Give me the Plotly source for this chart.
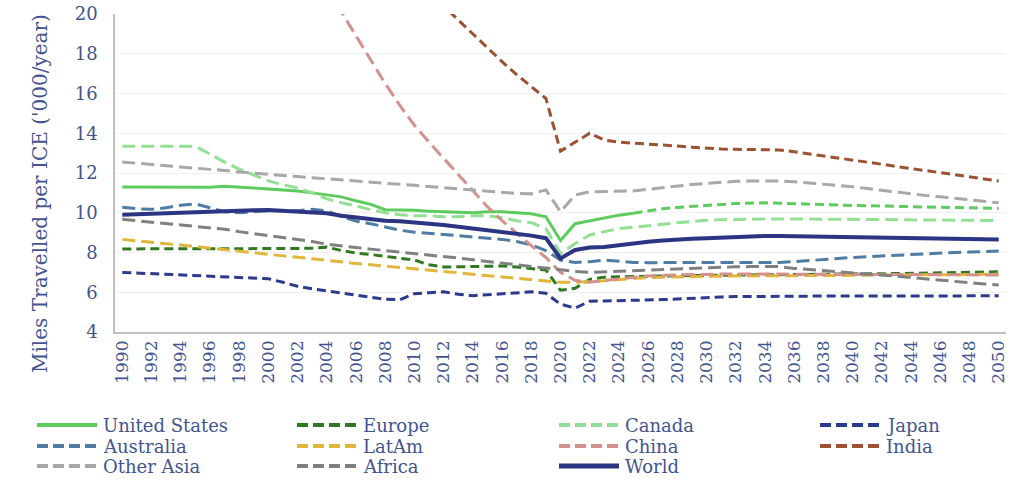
import plotly.graph_objects as go

years = list(range(1990, 2051))

united_states = [11.3, 11.3, 11.3, 11.3, 11.3, 11.3, 11.28, 11.33, 11.3, 11.25,
                 11.2, 11.15, 11.1, 11.0, 10.9, 10.8, 10.6, 10.42, 10.15, 10.15,
                 10.12, 10.08, 10.05, 10.05, 10.0, 10.05, 10.05, 10.0, 9.95, 9.8,
                 8.6, 9.45, 9.6, 9.75, 9.88, 9.98, 10.1, 10.2, 10.27, 10.33,
                 10.38, 10.42, 10.46, 10.48, 10.5, 10.48, 10.45, 10.43, 10.41, 10.39,
                 10.37, 10.35, 10.33, 10.31, 10.3, 10.28, 10.27, 10.26, 10.25, 10.23,
                 10.22]
us_last_actual_year = 2025

europe = [8.18, 8.18, 8.18, 8.18, 8.18, 8.18, 8.17, 8.17, 8.17, 8.17,
          8.17, 8.18, 8.2, 8.22, 8.27, 8.1, 7.97, 7.9, 7.8, 7.72,
          7.62, 7.38, 7.27, 7.28, 7.3, 7.33, 7.32, 7.27, 7.2, 7.12,
          6.1, 6.2, 6.65, 6.76, 6.78, 6.8, 6.81, 6.82, 6.83, 6.84,
          6.85, 6.85, 6.86, 6.86, 6.87, 6.87, 6.88, 6.89, 6.9, 6.91,
          6.92, 6.93, 6.93, 6.94, 6.95, 6.96, 6.97, 6.98, 7.0, 7.01,
          7.03]

canada = [13.35, 13.35, 13.35, 13.35, 13.35, 13.35, 12.95, 12.55, 12.2, 11.9,
          11.6, 11.4, 11.25, 11.0, 10.7, 10.5, 10.35, 10.15, 10.0, 9.9,
          9.85, 9.85, 9.8, 9.8, 9.85, 9.85, 9.75, 9.6, 9.5, 9.2,
          7.95, 8.45, 8.88, 9.05, 9.2, 9.27, 9.33, 9.42, 9.5, 9.57,
          9.62, 9.65, 9.67, 9.68, 9.69, 9.69, 9.69, 9.68, 9.68, 9.67,
          9.67, 9.66, 9.66, 9.65, 9.65, 9.64, 9.63, 9.62, 9.62, 9.61,
          9.6]

japan = [7.0, 6.97, 6.93, 6.9, 6.86, 6.82, 6.8, 6.78, 6.76, 6.73,
         6.68, 6.5, 6.3, 6.17, 6.06, 5.96, 5.86, 5.75, 5.65, 5.62,
         5.93, 5.98, 6.02, 5.9, 5.83, 5.87, 5.92, 6.0, 6.02, 5.95,
         5.4, 5.2, 5.55, 5.56, 5.57, 5.59, 5.61, 5.63, 5.66, 5.7,
         5.73, 5.76, 5.78, 5.79, 5.8, 5.8, 5.81, 5.81, 5.81, 5.81,
         5.81, 5.81, 5.81, 5.81, 5.82, 5.82, 5.82, 5.82, 5.82, 5.82,
         5.82]

australia = [10.28, 10.2, 10.17, 10.25, 10.38, 10.45, 10.25, 10.05, 10.0, 10.05,
             10.1, 10.1, 10.1, 10.17, 10.1, 9.8, 9.58, 9.45, 9.3, 9.12,
             9.02, 8.97, 8.9, 8.85, 8.78, 8.72, 8.66, 8.55, 8.38, 8.1,
             7.62, 7.5, 7.54, 7.62, 7.55, 7.5, 7.49, 7.49, 7.49, 7.49,
             7.49, 7.49, 7.49, 7.49, 7.5, 7.5, 7.54, 7.6, 7.66, 7.71,
             7.75, 7.79, 7.83, 7.87, 7.91, 7.94, 7.97, 8.0, 8.02, 8.05,
             8.08]

latam = [8.66, 8.58, 8.5, 8.44, 8.38, 8.3, 8.2, 8.12, 8.05, 7.97,
         7.9, 7.83, 7.76, 7.68, 7.58, 7.52, 7.45, 7.38, 7.3, 7.24,
         7.18, 7.12, 7.05, 6.98, 6.9, 6.83, 6.76, 6.7, 6.64, 6.58,
         6.5, 6.5, 6.53, 6.58, 6.64, 6.7, 6.74, 6.76, 6.78, 6.8,
         6.81, 6.81, 6.82, 6.82, 6.82, 6.83, 6.83, 6.84, 6.84, 6.85,
         6.85, 6.86, 6.86, 6.87, 6.87, 6.88, 6.88, 6.89, 6.89, 6.9,
         6.9]

china = [None, None, None, None, None, None, None, None, None, None,
         None, None, None, None, 21.3, 20.1, 18.9, 17.7, 16.5, 15.4,
         14.4, 13.55, 12.75, 11.95, 11.1, 10.3, 9.6, 8.95, 8.35, 7.75,
         7.0, 6.6, 6.5, 6.6, 6.68, 6.75, 6.82, 6.86, 6.88, 6.9,
         6.92, 6.92, 6.92, 6.92, 6.92, 6.92, 6.91, 6.91, 6.91, 6.9,
         6.9, 6.9, 6.9, 6.89, 6.89, 6.89, 6.88, 6.88, 6.88, 6.87,
         6.87]

india = [None, None, None, None, None, None, None, None, None, None,
         None, None, None, None, None, None, None, None, None, None,
         None, 21.1, 20.4, 19.68, 19.0, 18.3, 17.6, 16.95, 16.35, 15.75,
         13.1, 13.55, 14.0, 13.66, 13.55, 13.5, 13.46, 13.41, 13.36, 13.3,
         13.24, 13.21, 13.19, 13.18, 13.18, 13.16, 13.07, 12.97, 12.86, 12.76,
         12.65, 12.55, 12.44, 12.33, 12.22, 12.12, 12.02, 11.92, 11.81, 11.7,
         11.6]

other_asia = [12.55, 12.5, 12.43, 12.37, 12.3, 12.25, 12.19, 12.13, 12.05, 11.98,
              11.92, 11.87, 11.82, 11.76, 11.7, 11.65, 11.6, 11.53, 11.48, 11.43,
              11.38, 11.32, 11.26, 11.2, 11.12, 11.06, 11.0, 10.97, 10.95, 11.15,
              10.05, 10.9, 11.05, 11.06, 11.06, 11.1, 11.18, 11.27, 11.35, 11.42,
              11.48, 11.54, 11.58, 11.6, 11.6, 11.6, 11.56, 11.5, 11.42, 11.37,
              11.31, 11.22, 11.13, 11.03, 10.94, 10.87, 10.8, 10.72, 10.64, 10.57,
              10.5]

africa = [9.67, 9.6, 9.52, 9.45, 9.37, 9.3, 9.24, 9.17, 9.05, 8.95,
          8.88, 8.78, 8.67, 8.55, 8.42, 8.35, 8.25, 8.17, 8.1, 8.02,
          7.95, 7.87, 7.8, 7.72, 7.63, 7.55, 7.47, 7.38, 7.3, 7.2,
          7.12, 7.05, 7.0, 7.02, 7.04, 7.08, 7.12, 7.15, 7.18, 7.21,
          7.23, 7.26, 7.28, 7.29, 7.29, 7.29, 7.2, 7.14, 7.08, 7.01,
          6.95, 6.91, 6.87, 6.8, 6.73, 6.68, 6.62, 6.55, 6.48, 6.42,
          6.36]

world = [9.9, 9.93, 9.95, 9.98, 10.02, 10.05, 10.08, 10.1, 10.12, 10.13,
         10.14, 10.1, 10.05, 10.0, 9.97, 9.85, 9.75, 9.7, 9.6, 9.57,
         9.52, 9.45, 9.38, 9.3, 9.22, 9.13, 9.05, 8.95, 8.85, 8.72,
         7.7, 8.13, 8.25, 8.28, 8.38, 8.46, 8.54, 8.6, 8.66, 8.69,
         8.72, 8.76, 8.79, 8.81, 8.83, 8.83, 8.82, 8.81, 8.8, 8.79,
         8.79, 8.78, 8.77, 8.76, 8.75, 8.73, 8.71, 8.7, 8.68, 8.67,
         8.66]

y_ticks = [4, 6, 8, 10, 12, 14, 16, 18, 20]
y_title = "Miles Travelled per ICE ('000/year)"

# name, values, colour, width, dash
series = [
    ("Europe", europe, "#2f7a20", 3, "9px,5px"),
    ("Canada", canada, "#93df93", 3, "13px,6px"),
    ("Japan", japan, "#2b3a8c", 3, "9px,5px"),
    ("Australia", australia, "#4f7ca4", 3, "13px,6px"),
    ("LatAm", latam, "#e2b53b", 3, "13px,6px"),
    ("China", china, "#d3918e", 3, "13px,6px"),
    ("India", india, "#9a5231", 3, "9px,5px"),
    ("Other Asia", other_asia, "#a8a8a8", 3, "13px,6px"),
    ("Africa", africa, "#808080", 3, "13px,6px"),
]

US_COLOR = "#5dcb5d"
WORLD_COLOR = "#2b3583"
TEXT_COLOR = "#42548f"
FONT = "DejaVu Serif"

fig = go.Figure()

split = years.index(us_last_actual_year)
fig.add_trace(go.Scatter(x=years[:split + 1], y=united_states[:split + 1], mode="lines",
                         line=dict(color=US_COLOR, width=3), name="United States",
                         showlegend=False))
fig.add_trace(go.Scatter(x=years[split:], y=united_states[split:], mode="lines",
                         line=dict(color=US_COLOR, width=3, dash="9px,5px"),
                         name="United States (projection)", showlegend=False))
for name, vals, col, w, dash in series:
    fig.add_trace(go.Scatter(x=years, y=vals, mode="lines", name=name,
                             line=dict(color=col, width=w, dash=dash),
                             showlegend=False))
fig.add_trace(go.Scatter(x=years, y=world, mode="lines", name="World",
                         line=dict(color=WORLD_COLOR, width=4), showlegend=False))

# layout geometry (pixels)
W, H = 1024, 485
PL, PR, PT, PB = 115, 1006, 14, 332


def fx(px):
    return (px - PL) / (PR - PL)


def fy(py):
    return (PB - py) / (PB - PT)


# manual legend (4 columns x 3 rows)
legend_entries = [
    ("United States", US_COLOR, 4, "solid"),
    ("Europe", "#2f7a20", 4, "11px,5px"),
    ("Canada", "#93df93", 4, "11px,5px"),
    ("Japan", "#2b3a8c", 4, "11px,5px"),
    ("Australia", "#4f7ca4", 4, "11px,5px"),
    ("LatAm", "#e2b53b", 4, "11px,5px"),
    ("China", "#d3918e", 4, "11px,5px"),
    ("India", "#9a5231", 4, "11px,5px"),
    ("Other Asia", "#a8a8a8", 4, "11px,5px"),
    ("Africa", "#808080", 4, "11px,5px"),
    ("World", WORLD_COLOR, 5, "solid"),
]
col_x = [37, 297, 559, 820]
row_y = [425, 446, 466]
sample_len = 60

shapes = []
annotations = []
for i, (label, col, w, dash) in enumerate(legend_entries):
    cx = col_x[i % 4]
    ry = row_y[i // 4]
    shapes.append(dict(type="line", xref="paper", yref="paper",
                       x0=fx(cx), x1=fx(cx + sample_len), y0=fy(ry), y1=fy(ry),
                       line=dict(color=col, width=w, dash=dash)))
    annotations.append(dict(text=label, xref="paper", yref="paper",
                            x=fx(cx + sample_len + 4), y=fy(ry),
                            xanchor="left", yanchor="middle", showarrow=False,
                            font=dict(family=FONT, size=18, color=TEXT_COLOR)))

annotations.append(dict(text=y_title, xref="paper", yref="paper",
                        x=fx(40), y=fy(194), textangle=-90,
                        xanchor="center", yanchor="middle", showarrow=False,
                        font=dict(family=FONT, size=20, color=TEXT_COLOR)))

fig.update_layout(
    width=W, height=H,
    margin=dict(l=PL, r=W - PR, t=PT, b=H - PB, autoexpand=False),
    paper_bgcolor="white", plot_bgcolor="white",
    showlegend=False,
    shapes=shapes, annotations=annotations,
    xaxis=dict(range=[1989.5, 2050.5], tickmode="linear", tick0=1990, dtick=2,
               tickangle=-90, showgrid=False, zeroline=False, automargin=False,
               showline=True, linecolor="#bfbfbf", linewidth=1.5, ticks="",
               tickfont=dict(family=FONT, size=17, color=TEXT_COLOR)),
    yaxis=dict(range=[4, 20], tickmode="array", tickvals=y_ticks,
               showgrid=True, gridcolor="#f0f0f0", gridwidth=1, zeroline=False,
               showline=True, linecolor="#bfbfbf", linewidth=1.5, ticks="",
               ticklabelstandoff=12, automargin=False,
               tickfont=dict(family=FONT, size=18, color=TEXT_COLOR)),
)

fig.write_html("out.html")
